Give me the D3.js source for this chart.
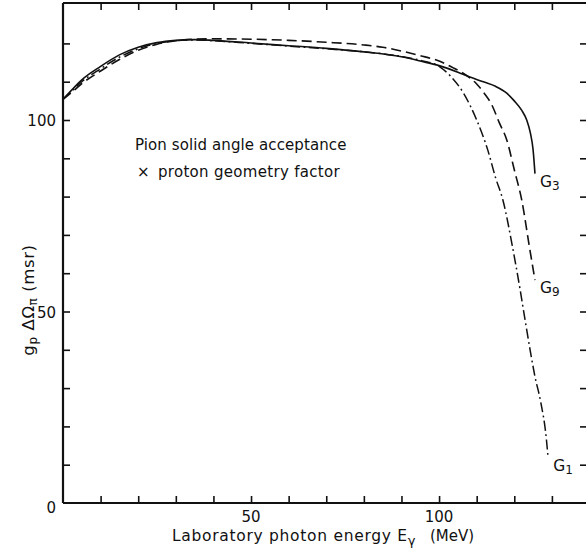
<!DOCTYPE html>
<html>
<head>
<meta charset="utf-8">
<script src="https://cdn.jsdelivr.net/npm/d3@7"></script>
<style>
  html, body { margin: 0; padding: 0; background: #fff; }
  svg { display: block; }
  text { font-family: "DejaVu Sans", sans-serif; fill: #111; }
</style>
</head>
<body>
<svg id="chart" width="586" height="550"></svg>
<script>
// ---- data ----
const g3Energy = [0, 2.5, 5, 10, 15, 20, 25, 30, 35, 40, 50, 60, 70, 80, 90, 95, 100, 105, 108, 112, 115, 118, 120, 122, 123.3, 124.3, 125, 125.5];
const g3Value  = [105.4, 108, 110.5, 114, 117, 119, 120.2, 120.8, 121, 120.8, 120.1, 119.4, 118.7, 117.8, 116.5, 115.4, 114.2, 112.5, 111.3, 109.9, 108.8, 107, 105, 102.5, 100, 96.5, 92.2, 86];

const g9Energy = [0, 2.5, 5, 10, 15, 20, 25, 30, 35, 40, 50, 60, 70, 80, 85, 90, 95, 100, 104, 106.4, 110, 112, 114, 116, 118, 120, 122, 124, 125.5];
const g9Value  = [105.4, 107.4, 109.5, 112.8, 115.8, 118.2, 119.8, 120.7, 121.1, 121.2, 121.1, 120.8, 120.3, 119.6, 119, 118, 116.8, 115.4, 113.5, 112.2, 109.4, 107, 104, 99.3, 94.8, 87, 79, 67, 58.2];

const g1Energy = [0, 2.5, 5, 10, 15, 20, 25, 30, 35, 40, 50, 60, 70, 80, 90, 95, 100, 103, 106.5, 110, 113, 115, 117, 119.5, 121.5, 123, 124.2, 125.5, 127, 128.5, 129];
const g1Value  = [105.4, 107.7, 110, 113.4, 116.4, 118.6, 120, 120.7, 120.9, 120.7, 120, 119.3, 118.6, 117.8, 116.6, 115.6, 114, 111.5, 107, 100, 92, 85, 79, 67, 56, 47, 40, 33, 26.5, 17, 11.7];

const xTicks = [0, 10, 20, 30, 40, 50, 60, 70, 80, 90, 100, 110, 120, 130];
const xTickLabels = [50, 100];
const yTicks = [0, 10, 20, 30, 40, 50, 60, 70, 80, 90, 100, 110, 120];
const yTickLabels = [0, 50, 100];

const seriesNames = ["G", "G", "G"];
const seriesSubs = ["3", "9", "1"];

// ---- layout ----
const svg = d3.select("#chart");
const mLeft = 63, mRight = 588, mTop = 3, mBottom = 503;
const x = d3.scaleLinear().domain([0, 139.6]).range([mLeft, mRight]);
const y = d3.scaleLinear().domain([0, 130.55]).range([mBottom, mTop]);

// frame
const frame = svg.append("g").attr("stroke", "#111").attr("fill", "none");
frame.append("line").attr("x1", mLeft).attr("x2", mLeft).attr("y1", mTop).attr("y2", mBottom).attr("stroke-width", 2.2);
frame.append("line").attr("x1", mLeft).attr("x2", mRight).attr("y1", mBottom).attr("y2", mBottom).attr("stroke-width", 2.2);
frame.append("line").attr("x1", mLeft).attr("x2", mRight).attr("y1", mTop).attr("y2", mTop).attr("stroke-width", 2);
frame.append("line").attr("x1", mRight).attr("x2", mRight).attr("y1", mTop).attr("y2", mBottom).attr("stroke-width", 2);

// ticks using d3 axes (inward)
const tickLen = 7;
const bottomAxis = d3.axisBottom(x).tickValues(xTicks.filter(d => d > 0)).tickSize(-tickLen).tickFormat("");
const topAxis = d3.axisTop(x).tickValues(xTicks.filter(d => d > 0)).tickSize(-tickLen).tickFormat("");
const leftAxis = d3.axisLeft(y).tickValues(yTicks.filter(d => d > 0)).tickSize(-tickLen).tickFormat("");
const rightAxis = d3.axisRight(y).tickValues(yTicks.filter(d => d > 0)).tickSize(-tickLen - 1).tickFormat("");

function styleAxis(g) {
  g.select(".domain").remove();
  g.selectAll(".tick line").attr("stroke", "#111").attr("stroke-width", 1.6);
}
svg.append("g").attr("transform", `translate(0,${mBottom})`).call(bottomAxis).call(styleAxis);
svg.append("g").attr("transform", `translate(0,${mTop})`).call(topAxis).call(styleAxis);
svg.append("g").attr("transform", `translate(${mLeft},0)`).call(leftAxis).call(styleAxis);
svg.append("g").attr("transform", `translate(${mRight},0)`).call(rightAxis).call(styleAxis);

// tick labels
svg.append("g").selectAll("text").data(xTickLabels).join("text")
  .attr("x", d => x(d)).attr("y", mBottom + 19)
  .attr("text-anchor", "middle").attr("font-size", 15).text(d => d);
svg.append("g").selectAll("text").data(yTickLabels).join("text")
  .attr("x", mLeft - 7).attr("y", d => y(d) + (d === 0 ? 10 : 6))
  .attr("text-anchor", "end").attr("font-size", 15).text(d => d);

// axis titles
const xt = svg.append("text").attr("x", 172).attr("y", 541).attr("font-size", 15.5).attr("letter-spacing", 0.7);
xt.append("tspan").text("Laboratory photon energy E");
xt.append("tspan").attr("font-size", 13).attr("dy", 4).text("γ");
const xu = svg.append("text").attr("x", 430).attr("y", 541).attr("font-size", 15).text("(MeV)");

const yt = svg.append("text").attr("transform", "translate(34,300) rotate(-90)")
  .attr("text-anchor", "middle").attr("font-size", 16.5).attr("letter-spacing", 0.6);
yt.append("tspan").text("g");
yt.append("tspan").attr("font-size", 12).attr("dy", 3).text("p");
yt.append("tspan").attr("dy", -3).text(" ΔΩ");
yt.append("tspan").attr("font-size", 12).attr("dy", 3).text("π");
yt.append("tspan").attr("dy", -3).text(" (msr)");

// annotation
svg.append("text").attr("x", 135).attr("y", 150).attr("font-size", 15).attr("letter-spacing", 0.1).text("Pion solid angle acceptance");
svg.append("text").attr("x", 137).attr("y", 177).attr("font-size", 15).text("×");
svg.append("text").attr("x", 158).attr("y", 177).attr("font-size", 15).attr("letter-spacing", 0.3).text("proton geometry factor");

// curves
const line = d3.line().x(d => x(d[0])).y(d => y(d[1])).curve(d3.curveMonotoneX);
const series = [
  { e: g3Energy, v: g3Value, dash: null, w: 1.6 },
  { e: g9Energy, v: g9Value, dash: "10,5", w: 1.6 },
  { e: g1Energy, v: g1Value, dash: "10,3.5,1.8,3.5", w: 1.5 }
];
series.forEach((s, i) => {
  const pts = s.e.map((e, j) => [e, s.v[j]]);
  svg.append("path").datum(pts).attr("d", line)
    .attr("fill", "none").attr("stroke", "#111").attr("stroke-width", s.w)
    .attr("stroke-dasharray", s.dash);
  const last = pts[pts.length - 1];
  const lab = svg.append("text").attr("x", x(last[0]) + 5).attr("y", y(last[1]) + 13).attr("font-size", 15.5);
  lab.append("tspan").text(seriesNames[i]);
  lab.append("tspan").attr("font-size", 12).attr("dy", 3).text(seriesSubs[i]);
});
</script>
</body>
</html>
